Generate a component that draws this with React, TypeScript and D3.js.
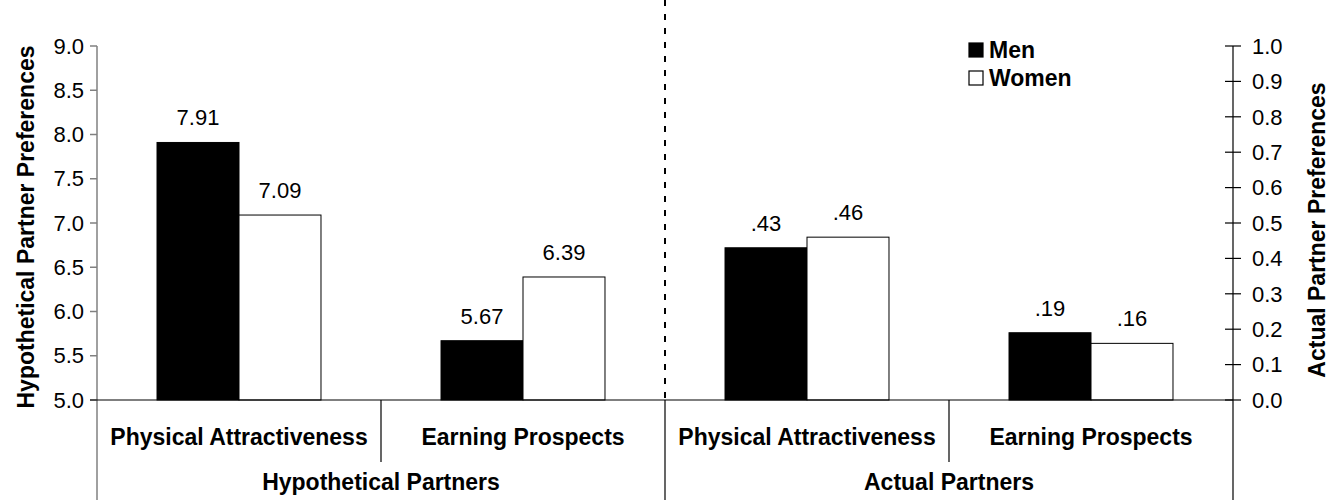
import React from "react";
import * as d3 from "d3";

// chart values
const categories = [
  "Physical Attractiveness",
  "Earning Prospects",
  "Physical Attractiveness",
  "Earning Prospects",
];
const groups = ["Hypothetical Partners", "Actual Partners"];
const seriesNames = ["Men", "Women"];
const hypotheticalMen = [7.91, 5.67];
const hypotheticalWomen = [7.09, 6.39];
const actualMen = [0.43, 0.19];
const actualWomen = [0.46, 0.16];
const leftTicks = [5.0, 5.5, 6.0, 6.5, 7.0, 7.5, 8.0, 8.5, 9.0];
const rightTicks = [0, 0.1, 0.2, 0.3, 0.4, 0.5, 0.6, 0.7, 0.8, 0.9, 1.0];

const width = 1332;
const height = 500;
const plot = { left: 97, right: 1233, top: 46, bottom: 400 };
const font = "'Liberation Sans', Arial, sans-serif";

const App: React.FC = () => {
  const x0 = d3
    .scaleBand<number>()
    .domain(d3.range(categories.length))
    .range([plot.left, plot.right])
    .padding(0);
  const x1 = d3
    .scaleBand<string>()
    .domain(seriesNames)
    .range([0, x0.bandwidth()])
    .paddingInner(0)
    .paddingOuter(0.732);
  const yLeft = d3.scaleLinear().domain([5, 9]).range([plot.bottom, plot.top]);
  const yRight = d3.scaleLinear().domain([0, 1]).range([plot.bottom, plot.top]);

  // one row per bar
  const bars: { cat: number; series: string; value: number; right: boolean }[] = [];
  [0, 1].forEach((i) => {
    bars.push({ cat: i, series: "Men", value: hypotheticalMen[i], right: false });
    bars.push({ cat: i, series: "Women", value: hypotheticalWomen[i], right: false });
  });
  [0, 1].forEach((i) => {
    bars.push({ cat: i + 2, series: "Men", value: actualMen[i], right: true });
    bars.push({ cat: i + 2, series: "Women", value: actualWomen[i], right: true });
  });

  const fmt = (v: number, right: boolean) =>
    right ? v.toFixed(2).replace(/^0/, "") : v.toFixed(2);

  const midX = x0(2)!;

  return (
    <svg
      width={width}
      height={height}
      style={{ position: "absolute", left: 0, top: 0, background: "#fff" }}
      fontFamily={font}
    >
      {/* bars */}
      {bars.map((b, i) => {
        const y = b.right ? yRight : yLeft;
        const bx = x0(b.cat)! + x1(b.series)!;
        const top = y(b.value);
        return (
          <g key={i}>
            <rect
              x={bx}
              y={top}
              width={x1.bandwidth()}
              height={plot.bottom - top}
              fill={b.series === "Men" ? "#000" : "#fff"}
              stroke="#000"
              strokeWidth={1}
            />
            <text
              x={bx + x1.bandwidth() / 2}
              y={top - 17}
              textAnchor="middle"
              fontSize={22}
              fill="#000"
            >
              {fmt(b.value, b.right)}
            </text>
          </g>
        );
      })}

      {/* dashed separator */}
      <line
        x1={midX}
        x2={midX}
        y1={0}
        y2={plot.bottom}
        stroke="#000"
        strokeWidth={2}
        strokeDasharray="6,8"
      />

      {/* left axis */}
      <line x1={plot.left} x2={plot.left} y1={plot.top} y2={height} stroke="#808080" strokeWidth={1.5} />
      {leftTicks.map((t) => (
        <g key={t}>
          <line x1={plot.left - 7} x2={plot.left} y1={yLeft(t)} y2={yLeft(t)} stroke="#808080" strokeWidth={1.5} />
          <text x={plot.left - 13} y={yLeft(t)} dy="0.35em" textAnchor="end" fontSize={22}>
            {t.toFixed(1)}
          </text>
        </g>
      ))}
      <text
        transform={`translate(34,${(plot.top + plot.bottom) / 2 + 4}) rotate(-90)`}
        textAnchor="middle"
        fontSize={23}
        fontWeight="bold"
      >
        Hypothetical Partner Preferences
      </text>

      {/* right axis */}
      <line x1={plot.right} x2={plot.right} y1={plot.top} y2={height} stroke="#000" strokeWidth={1.2} />
      {rightTicks.map((t) => (
        <g key={t}>
          <line x1={plot.right - 8} x2={plot.right + 8} y1={yRight(t)} y2={yRight(t)} stroke="#000" strokeWidth={1.2} />
          <text x={plot.right + 19} y={yRight(t)} dy="0.35em" textAnchor="start" fontSize={22}>
            {t.toFixed(1)}
          </text>
        </g>
      ))}
      <text
        transform={`translate(1325,${(plot.top + plot.bottom) / 2 + 7}) rotate(-90)`}
        textAnchor="middle"
        fontSize={23}
        fontWeight="bold"
      >
        Actual Partner Preferences
      </text>

      {/* category axis */}
      <line x1={plot.left - 7} x2={plot.right} y1={plot.bottom} y2={plot.bottom} stroke="#000" strokeWidth={1.2} />
      {categories.map((c, i) => (
        <g key={i}>
          {i % 2 === 1 && (
            <line
              x1={x0(i)!}
              x2={x0(i)!}
              y1={plot.bottom}
              y2={462}
              stroke="#000"
              strokeWidth={1.2}
            />
          )}
          <text
            x={x0(i)! + x0.bandwidth() / 2}
            y={445}
            textAnchor="middle"
            fontSize={23}
            fontWeight="bold"
          >
            {c}
          </text>
        </g>
      ))}
      <line x1={midX} x2={midX} y1={plot.bottom} y2={height} stroke="#000" strokeWidth={1.2} />
      {groups.map((g, i) => (
        <text
          key={g}
          x={x0(i * 2)! + x0.bandwidth()}
          y={490}
          textAnchor="middle"
          fontSize={23}
          fontWeight="bold"
        >
          {g}
        </text>
      ))}

      {/* legend */}
      {seriesNames.map((s, i) => (
        <g key={s} transform={`translate(969,${43 + i * 28})`}>
          <rect
            x={0}
            y={0}
            width={14}
            height={14}
            fill={s === "Men" ? "#000" : "#fff"}
            stroke="#000"
            strokeWidth={1.2}
          />
          <text x={20} y={7} dy="0.35em" fontSize={23} fontWeight="bold">
            {s}
          </text>
        </g>
      ))}
    </svg>
  );
};

export default App;
